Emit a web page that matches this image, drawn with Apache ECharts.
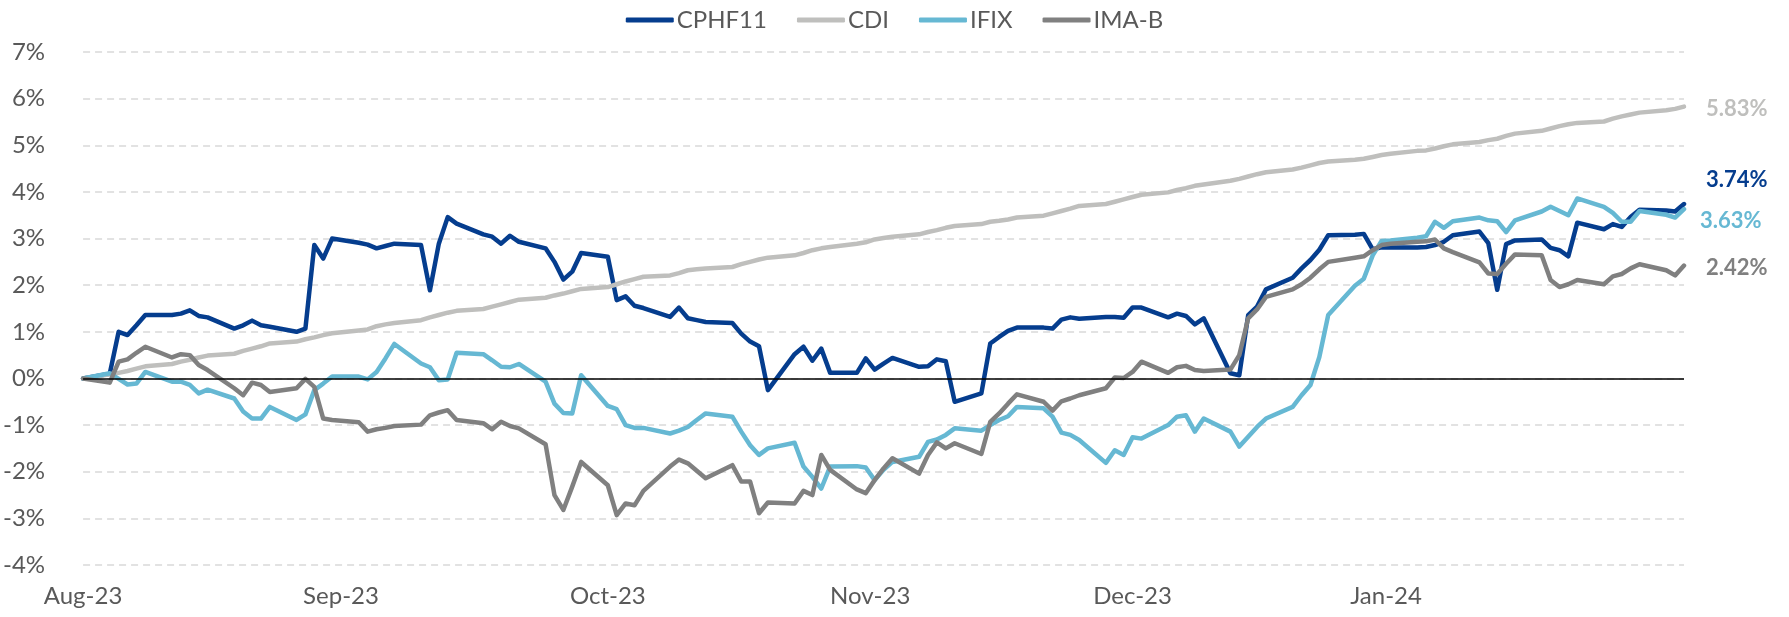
<!DOCTYPE html>
<html>
<head>
<meta charset="utf-8">
<script src="https://cdn.jsdelivr.net/npm/echarts@6/dist/echarts.min.js"></script>
<style>
  html, body { margin: 0; padding: 0; background: #fff; }
  #main { width: 1789px; height: 617px; }
</style>
</head>
<body>
<div id="main"></div>
<script>
// x position of each point, in days from the first observation
const dayIndex = [
  0,
  3, 4, 5, 6, 7,  10, 11, 12, 13, 14,  17, 18, 19, 20, 21,  24, 25, 26, 27, 28,
  31, 32, 33, 34, 35,  38, 39, 40, 41, 42,  45, 46, 47, 48, 49,  52, 53, 54, 55, 56,
  59, 60, 61, 62, 63,  66, 67, 68, 69, 70,  73, 74, 75, 76, 77,  80, 81, 82, 83, 84,
  87, 88, 89, 90, 91,  94, 95, 96, 97, 98,  101, 102, 103, 104, 105,  108, 109, 110, 111, 112,
  115, 116, 117, 118, 119,  122, 123, 124, 125, 126,  129, 130, 131, 132, 133,
  136, 137, 138, 139, 140,  143, 144, 145, 146, 147,  150, 151, 152, 153, 154,
  157, 158, 159, 160, 161,  164, 165, 166, 167, 168,  171, 172, 173, 174, 175,
  178, 179, 180
];

// where the month labels sit on the day scale
const tickDays = [0, 29, 59, 88.5, 118, 146.5];
const tickLabels = ["Aug-23", "Sep-23", "Oct-23", "Nov-23", "Dec-23", "Jan-24"];

const seriesNames = ["CPHF11", "CDI", "IFIX", "IMA-B"];

const cphf11 = [
  0.00,
  0.10, 1.00, 0.93, 1.14, 1.36,
  1.36, 1.39, 1.46, 1.34, 1.31,
  1.07, 1.14, 1.24, 1.14, 1.11,
  1.00, 1.07, 2.86, 2.57, 3.00,
  2.91, 2.87, 2.79, 2.84, 2.89,
  2.86, 1.89, 2.89, 3.46, 3.32,
  3.09, 3.04, 2.89, 3.06, 2.93,
  2.79, 2.50, 2.12, 2.29, 2.69,
  2.61, 1.68, 1.76, 1.56, 1.51,
  1.32, 1.52, 1.29, 1.25, 1.21,
  1.19, 0.96, 0.79, 0.69, -0.25,
  0.52, 0.68, 0.38, 0.64, 0.12,
  0.12, 0.43, 0.19, 0.32, 0.44,
  0.25, 0.26, 0.41, 0.37, -0.50,
  -0.32, 0.75, 0.89, 1.02, 1.09,
  1.09, 1.07, 1.26, 1.31, 1.28,
  1.32, 1.32, 1.30, 1.52, 1.52,
  1.31, 1.39, 1.34, 1.16, 1.29,
  0.11, 0.07, 1.36, 1.54, 1.91,
  2.16, 2.36, 2.54, 2.76, 3.07,
  3.08, 3.10, 2.77, 2.81, 2.81,
  2.81, 2.82, 2.86, 2.93, 3.07,
  3.15, 2.90, 1.90, 2.88, 2.96,
  2.98, 2.80, 2.75, 2.62, 3.34,
  3.20, 3.31, 3.25, 3.46, 3.62,
  3.60, 3.58, 3.74
];

const cdi = [
  0.00,
  0.09, 0.12, 0.16, 0.21, 0.26,
  0.31, 0.36, 0.40, 0.45, 0.49,
  0.53, 0.59, 0.64, 0.69, 0.75,
  0.79, 0.84, 0.88, 0.93, 0.97,
  1.03, 1.05, 1.12, 1.16, 1.19,
  1.25, 1.31, 1.36, 1.41, 1.45,
  1.49, 1.54, 1.59, 1.64, 1.69,
  1.73, 1.78, 1.82, 1.87, 1.92,
  1.96, 2.02, 2.08, 2.13, 2.18,
  2.21, 2.26, 2.32, 2.34, 2.36,
  2.39, 2.45, 2.50, 2.55, 2.59,
  2.64, 2.69, 2.75, 2.79, 2.82,
  2.89, 2.92, 2.98, 3.01, 3.04,
  3.09, 3.14, 3.18, 3.23, 3.27,
  3.31, 3.36, 3.38, 3.41, 3.45,
  3.49, 3.54, 3.59, 3.64, 3.70,
  3.74, 3.79, 3.84, 3.89, 3.94,
  3.99, 4.04, 4.08, 4.13, 4.16,
  4.24, 4.28, 4.33, 4.38, 4.42,
  4.48, 4.52, 4.57, 4.62, 4.65,
  4.69, 4.71, 4.75, 4.79, 4.82,
  4.88, 4.89, 4.93, 4.98, 5.02,
  5.07, 5.11, 5.14, 5.20, 5.25,
  5.31, 5.36, 5.41, 5.45, 5.48,
  5.51, 5.57, 5.62, 5.66, 5.70,
  5.75, 5.78, 5.83
];

const ifix = [
  0.00,
  0.11, -0.01, -0.13, -0.11, 0.14,
  -0.07, -0.07, -0.14, -0.32, -0.24,
  -0.43, -0.71, -0.86, -0.86, -0.61,
  -0.89, -0.77, -0.25, -0.11, 0.04,
  0.04, -0.02, 0.14, 0.43, 0.74,
  0.32, 0.24, -0.04, -0.02, 0.55,
  0.52, 0.39, 0.25, 0.24, 0.31,
  -0.07, -0.54, -0.74, -0.75, 0.07,
  -0.59, -0.66, -1.00, -1.06, -1.06,
  -1.18, -1.12, -1.04, -0.89, -0.75,
  -0.82, -1.14, -1.43, -1.64, -1.50,
  -1.38, -1.89, -2.11, -2.36, -1.89,
  -1.88, -1.91, -2.18, -1.96, -1.79,
  -1.68, -1.36, -1.31, -1.21, -1.07,
  -1.12, -1.00, -0.89, -0.81, -0.61,
  -0.64, -0.82, -1.16, -1.21, -1.32,
  -1.81, -1.54, -1.64, -1.26, -1.29,
  -1.00, -0.82, -0.79, -1.14, -0.86,
  -1.14, -1.46, -1.25, -1.04, -0.86,
  -0.61, -0.36, -0.14, 0.46, 1.36,
  1.99, 2.14, 2.64, 2.95, 2.96,
  3.02, 3.05, 3.36, 3.23, 3.37,
  3.45, 3.39, 3.37, 3.14, 3.39,
  3.58, 3.68, 3.59, 3.50, 3.86,
  3.68, 3.55, 3.36, 3.36, 3.59,
  3.51, 3.45, 3.63
];

const imab = [
  0.00,
  -0.09, 0.36, 0.41, 0.55, 0.68,
  0.45, 0.52, 0.50, 0.29, 0.18,
  -0.21, -0.36, -0.09, -0.14, -0.29,
  -0.21, -0.01, -0.18, -0.86, -0.89,
  -0.94, -1.14, -1.09, -1.06, -1.02,
  -0.99, -0.79, -0.73, -0.68, -0.89,
  -0.96, -1.09, -0.93, -1.02, -1.07,
  -1.41, -2.50, -2.82, -2.32, -1.79,
  -2.29, -2.93, -2.68, -2.72, -2.41,
  -1.89, -1.74, -1.82, -1.98, -2.14,
  -1.86, -2.21, -2.21, -2.89, -2.66,
  -2.68, -2.41, -2.50, -1.64, -1.96,
  -2.38, -2.46, -2.18, -1.93, -1.71,
  -2.04, -1.64, -1.37, -1.50, -1.39,
  -1.62, -0.93, -0.75, -0.54, -0.34,
  -0.50, -0.69, -0.49, -0.43, -0.36,
  -0.21, 0.02, 0.01, 0.14, 0.36,
  0.12, 0.24, 0.27, 0.18, 0.16,
  0.19, 0.50, 1.29, 1.48, 1.75,
  1.91, 2.02, 2.16, 2.34, 2.50,
  2.59, 2.62, 2.75, 2.86, 2.89,
  2.93, 2.94, 2.98, 2.79, 2.71,
  2.49, 2.25, 2.24, 2.46, 2.66,
  2.64, 2.11, 1.96, 2.02, 2.11,
  2.02, 2.19, 2.24, 2.36, 2.45,
  2.32, 2.21, 2.42
];

const FONT = "Lato, 'Open Sans', sans-serif";
const TEXT_COLOR = "#595959";

function makeLine(name, values, color, labelOffset) {
  return {
    name: name,
    type: "line",
    data: dayIndex.map((d, i) => [d, values[i]]),
    showSymbol: false,
    symbolSize: 0,
    itemStyle: { color: color },
    lineStyle: { width: 4.5, color: color, cap: "round", join: "round" },
    emphasis: { disabled: true },
    endLabel: {
      show: true,
      formatter: (p) => p.value[1].toFixed(2) + "%",
      color: color,
      fontFamily: FONT,
      fontWeight: "bold",
      fontSize: 22,
      offset: labelOffset,
    },
  };
}

var chart = echarts.init(document.getElementById("main"), null, { renderer: "canvas" });

var series = [
  makeLine(seriesNames[0], cphf11, "#053D8E", [14, -24]),
  makeLine(seriesNames[1], cdi, "#BFBFBD", [14, 2]),
  makeLine(seriesNames[2], ifix, "#66B8D3", [8, 12]),
  makeLine(seriesNames[3], imab, "#808080", [14, 2]),
];

// black zero line
series[0].markLine = {
  silent: true,
  symbol: ["none", "none"],
  label: { show: false },
  lineStyle: { color: "#000", width: 1.5, type: "solid" },
  data: [{ yAxis: 0 }],
};

chart.setOption({
  animation: false,
  textStyle: { fontFamily: FONT },
  legend: {
    top: 3,
    left: "center",
    data: seriesNames,
    icon: "roundRect",
    itemWidth: 48,
    itemHeight: 5,
    itemGap: 30,
    textStyle: { fontSize: 24, color: TEXT_COLOR, fontFamily: FONT, padding: [0, 0, 0, -2] },
  },
  grid: { left: 82, right: 105, top: 52, bottom: 52, containLabel: false },
  xAxis: {
    type: "value",
    min: 0,
    max: 180,
    axisLine: { show: false },
    axisTick: { show: false },
    splitLine: { show: false },
    axisLabel: {
      customValues: tickDays,
      formatter: (v) => {
        const i = tickDays.indexOf(v);
        return i >= 0 ? tickLabels[i] : "";
      },
      fontSize: 24,
      color: TEXT_COLOR,
      margin: 19,
    },
  },
  yAxis: {
    type: "value",
    min: -4,
    max: 7,
    interval: 1,
    axisLine: { show: false },
    axisTick: { show: false },
    axisLabel: { formatter: "{value}%", fontSize: 24, color: TEXT_COLOR, margin: 38 },
    splitLine: { lineStyle: { color: "#D9D9D9", width: 1.5, type: [7, 5] } },
  },
  series: series,
});
</script>
</body>
</html>
